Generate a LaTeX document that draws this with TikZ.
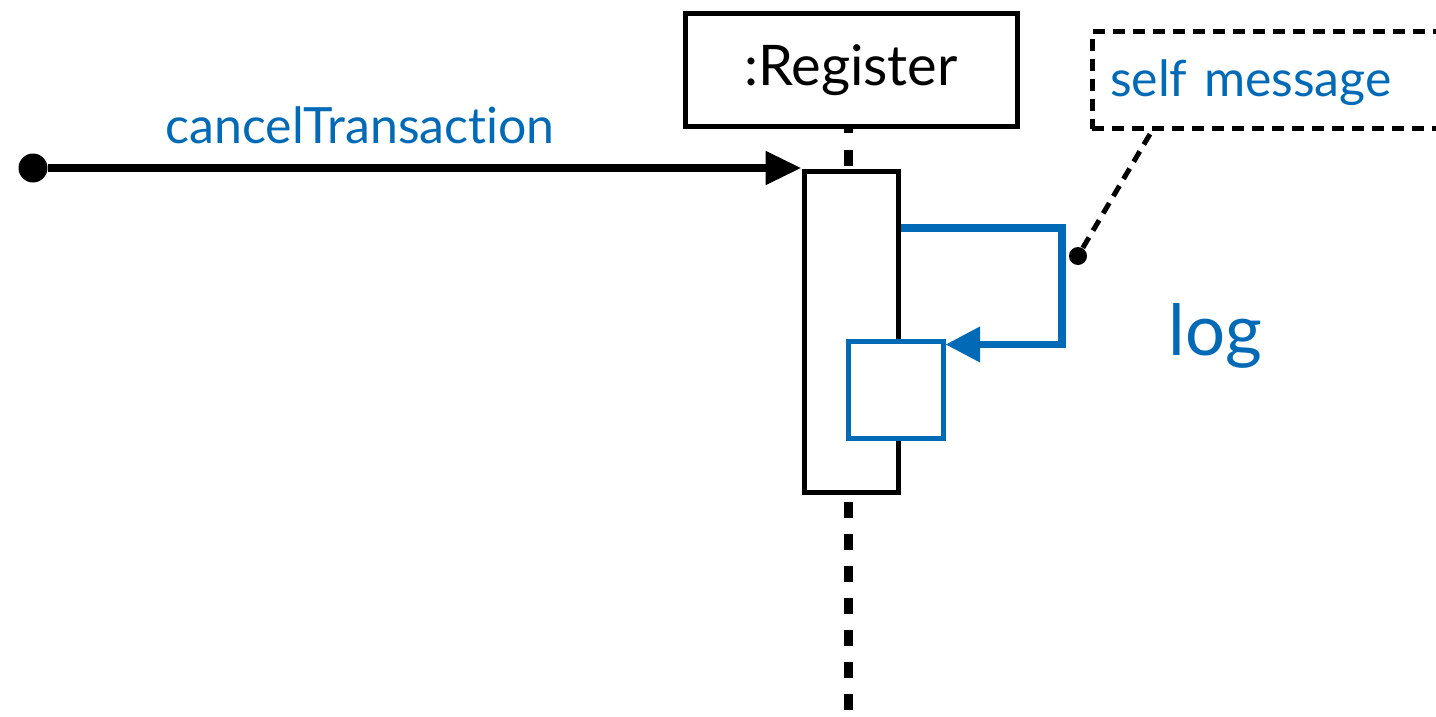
\documentclass[tikz,border=0pt]{standalone}
\usepackage{fontspec}
\setmainfont{Lato}[Ligatures=NoCommon]
\usetikzlibrary{arrows.meta,calc}
\definecolor{umlblue}{RGB}{0,106,183}
\tikzset{every picture/.style={line width=0.75pt}}

\begin{document}
\begin{tikzpicture}[x=0.75pt,y=0.75pt,yscale=-1,xscale=1,
  objbox/.style={draw, line width=3.75pt, fill=white, minimum width=249pt, minimum height=84.75pt, inner sep=0pt, font=\fontsize{42}{48}\selectfont},
  actbar/.style={draw, line width=3.75pt, fill=white, minimum width=70.5pt, minimum height=240.75pt, inner sep=0pt},
  nestbar/.style={draw=umlblue, line width=3.75pt, fill=white, minimum width=71.25pt, minimum height=72.75pt, inner sep=0pt},
  lifeline/.style={line width=6.75pt, dash pattern=on 12pt off 12pt, dash phase=9pt},
  msg/.style={line width=6pt, -{Triangle[length=27pt,width=24pt]}},
  selfmsg/.style={umlblue, line width=5.6pt, -{Triangle[length=26pt,width=25.5pt]}},
  enddot/.style={circle, fill, inner sep=0pt, minimum size=#1},
  notebox/.style={draw, line width=3.75pt, dash pattern=on 9pt off 6pt, outer sep=0pt},
  notelink/.style={line width=3.75pt, dash pattern=on 9pt off 6pt},
  msglabel/.style={text=umlblue, inner sep=0pt, font=\fontsize{37.5}{45}\selectfont}
  ]
\path[use as bounding box] (0,0) rectangle (1436,717);
\clip (0,0) rectangle (1436,717);

%Shape: Object box
\node[objbox] (reg) at (851,70.5) {:Register};
%Lifeline
\coordinate (lifeend) at (848,717);
\draw[lifeline] (reg.south -| lifeend) -- (lifeend);
%Shape: Activation bars
\node[actbar] (act) at (851,331.5) {};
\node[nestbar] (nested) at (895.5,389.5) {};

%Found message
\node[enddot=21.75pt] (start) at (33,168) {};
\draw[msg] (start) -- (start -| act.west);

%Self message
\coordinate (turn) at (1062,228);
\draw[selfmsg] (act.east |- turn) -- (turn) |- ($(nested.north east)+(0,6)$);

%Note
\node[notebox, msglabel, anchor=base west, inner xsep=13.5pt, inner ysep=0pt, text width=256.5pt, align=left, text height=48.75pt, text depth=24pt] (note) at (1092,97) {self message};
\node[enddot=13.5pt] (cdot) at (1078,256) {};
\draw[notelink] (cdot) -- ($(note.south west)+(61,0)$);

% Text Node
\node[msglabel, anchor=base] (lblcancel) at (360,143) {cancelTransaction};
% Text Node
\node[msglabel, anchor=base west, font=\fontsize{53}{60}\selectfont] (lbllog) at (1168,355) {log};

\end{tikzpicture}
\end{document}
